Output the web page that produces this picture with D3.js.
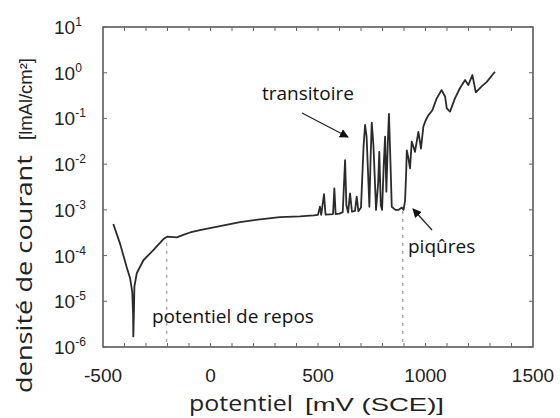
<!DOCTYPE html>
<html><head><meta charset="utf-8">
<script src="https://cdn.jsdelivr.net/npm/d3@7"></script>
<style>html,body{margin:0;padding:0;background:#fff}</style>
</head><body>
<svg id="c" width="560" height="418"></svg>
<script>
// potentiel (mV SCE)
const potential = [-452,-420,-390,-374,-364,-360,-359,-356,-354,-343,-312,-266,-235,-219,-200,-188,-157,-130,-95,-49,44,137,230,323,416,480,500,509,515,528,535,570,576,582,600,615,626,632,640,649,658,672,680,688,700,712,719,726,739,745,750,758,770,780,785,792,798,806,812,818,825,830,836,843,860,875,890,898,905,910,913,920,928,936,944,951,967,979,990,1000,1013,1032,1052,1075,1091,1099,1114,1137,1160,1184,1199,1218,1234,1261,1285,1323];
// densité de courant (mA/cm²)
const current = [4.9e-4,1.78e-4,5.6e-5,3.2e-5,1.6e-5,5.0e-6,1.7e-6,6.3e-6,2.1e-5,4.1e-5,7.9e-5,1.32e-4,1.9e-4,2.3e-4,2.6e-4,2.57e-4,2.5e-4,2.8e-4,3.2e-4,3.6e-4,4.4e-4,5.4e-4,6.2e-4,6.9e-4,7.2e-4,7.6e-4,7.8e-4,1.17e-3,7.8e-4,2.2e-3,7.9e-4,8.1e-4,2.95e-3,8.1e-4,8.3e-4,8.9e-4,1.23e-2,1.26e-3,8.7e-4,2.3e-3,9.1e-4,9.5e-4,1.95e-3,9.3e-4,1.12e-3,2.5e-2,7.2e-2,4.0e-2,1.17e-3,1.6e-2,8.1e-2,2.5e-2,1.0e-3,4.0e-3,1.86e-2,1.26e-3,1.0e-3,1.0e-2,4.0e-2,2.5e-3,3.2e-2,0.126,1.6e-2,1.17e-3,1.0e-3,1.0e-3,1.12e-3,1.0e-3,1.6e-3,6.3e-3,2.0e-2,1.4e-2,8.1e-3,3.1e-2,2.4e-2,1.86e-2,5.1e-2,2.2e-2,6.6e-2,8.9e-2,0.117,0.151,0.275,0.417,0.302,0.166,0.141,0.275,0.457,0.692,0.537,0.891,0.372,0.501,0.631,1.05];
const xTicks = [-500,0,500,1000,1500];
const yExponents = [-6,-5,-4,-3,-2,-1,0,1];
const xMinorStep = 100;
// repères pointillés (mV, densité haute)
const markers = [{x:-204, top:1.9e-4}, {x:894, top:9.5e-4}];

const svg = d3.select("#c");
const m = {l:103, t:27, r:27, b:71};
const W = 560, H = 418;
const x = d3.scaleLinear().domain([-500,1500]).range([m.l, W-m.r]);
const y = d3.scaleLog().domain([1e-6,10]).range([H-m.b, m.t]);

const axisColor = "#444";
const SANS = "Liberation Sans, Arial, sans-serif";
const OPEN = "Open Sans, sans-serif";

// markers dotted
markers.forEach(d=>{
  svg.append("line").attr("x1",x(d.x)).attr("x2",x(d.x))
    .attr("y1",y(d.top)).attr("y2",y(1e-6))
    .attr("stroke","#aaa").attr("stroke-width",1.5).attr("stroke-dasharray","3,5");
});

// curve
const line = d3.line().x((d,i)=>x(potential[i])).y((d,i)=>y(current[i]));
svg.append("path").datum(potential).attr("d",line)
  .attr("fill","none").attr("stroke","#2b2b2b").attr("stroke-width",1.8).attr("stroke-linejoin","round");

// frame
svg.append("rect").attr("x",m.l).attr("y",m.t).attr("width",W-m.l-m.r).attr("height",H-m.t-m.b)
  .attr("fill","none").attr("stroke",axisColor).attr("stroke-width",1.4);

// minor ticks
const minor = d3.range(-400,1500,xMinorStep);
const gx = svg.append("g").attr("stroke","#666").attr("stroke-width",1);
minor.forEach(v=>{
  gx.append("line").attr("x1",x(v)).attr("x2",x(v)).attr("y1",y(1e-6)).attr("y2",y(1e-6)-4);
  gx.append("line").attr("x1",x(v)).attr("x2",x(v)).attr("y1",y(10)).attr("y2",y(10)+4);
});
yExponents.forEach(e=>{
  const v = Math.pow(10,e);
  gx.append("line").attr("x1",x(-500)).attr("x2",x(-500)+4).attr("y1",y(v)).attr("y2",y(v));
  gx.append("line").attr("x1",x(1500)).attr("x2",x(1500)-4).attr("y1",y(v)).attr("y2",y(v));
});

// x tick labels
svg.append("g").selectAll("text").data(xTicks).join("text")
  .attr("x",d=>x(d)).attr("y",H-m.b+35).attr("text-anchor","middle")
  .attr("font-family",SANS).attr("font-size",19).attr("fill","#222")
  .text(d=>d);

// y tick labels
const yl = svg.append("g").selectAll("text").data(yExponents).join("text")
  .attr("x",54).attr("y",d=>y(Math.pow(10,d))+7)
  .attr("font-family",SANS).attr("font-size",19).attr("fill","#222");
yl.append("tspan").text("10");
yl.append("tspan").attr("dy",-8).attr("font-size",12).text(d=>d);

// axis titles
svg.append("text").attr("x",189).attr("y",411).attr("fill","#222")
  .attr("font-family",OPEN).attr("font-size",22)
  .attr("textLength",104).attr("lengthAdjust","spacingAndGlyphs").text("potentiel");
svg.append("text").attr("x",305).attr("y",411).attr("fill","#222")
  .attr("font-family",SANS).attr("font-size",19)
  .attr("textLength",139).attr("lengthAdjust","spacingAndGlyphs").text("[mV (SCE)]");

svg.append("text").attr("transform","translate(32,393) rotate(-90)").attr("fill","#222")
  .attr("font-family",OPEN).attr("font-size",22)
  .attr("textLength",238).attr("lengthAdjust","spacingAndGlyphs").text("densité de courant");
svg.append("text").attr("transform","translate(32,140) rotate(-90)").attr("fill","#222")
  .attr("font-family",SANS).attr("font-size",18)
  .attr("textLength",82).attr("lengthAdjust","spacingAndGlyphs").text("[lmAl/cm²]");

// annotations
svg.append("defs").append("marker").attr("id","ah").attr("viewBox","0 0 10 10")
  .attr("refX",9).attr("refY",5).attr("markerWidth",9).attr("markerHeight",9).attr("orient","auto")
  .attr("markerUnits","userSpaceOnUse")
  .append("path").attr("d","M0,0 L10,5 L0,10 z").attr("fill","#111");

const anno = svg.append("g").attr("font-family",OPEN).attr("font-size",19).attr("fill","#111");
anno.append("text").attr("x",262).attr("y",100).text("transitoire");
anno.append("text").attr("x",408).attr("y",253).text("piqûres");
anno.append("text").attr("x",152).attr("y",323).text("potentiel de repos");
svg.append("line").attr("x1",302).attr("y1",113).attr("x2",348).attr("y2",137)
  .attr("stroke","#222").attr("stroke-width",1.2).attr("marker-end","url(#ah)");
svg.append("line").attr("x1",432).attr("y1",230).attr("x2",413).attr("y2",209)
  .attr("stroke","#222").attr("stroke-width",1.2).attr("marker-end","url(#ah)");
</script>
</body></html>
